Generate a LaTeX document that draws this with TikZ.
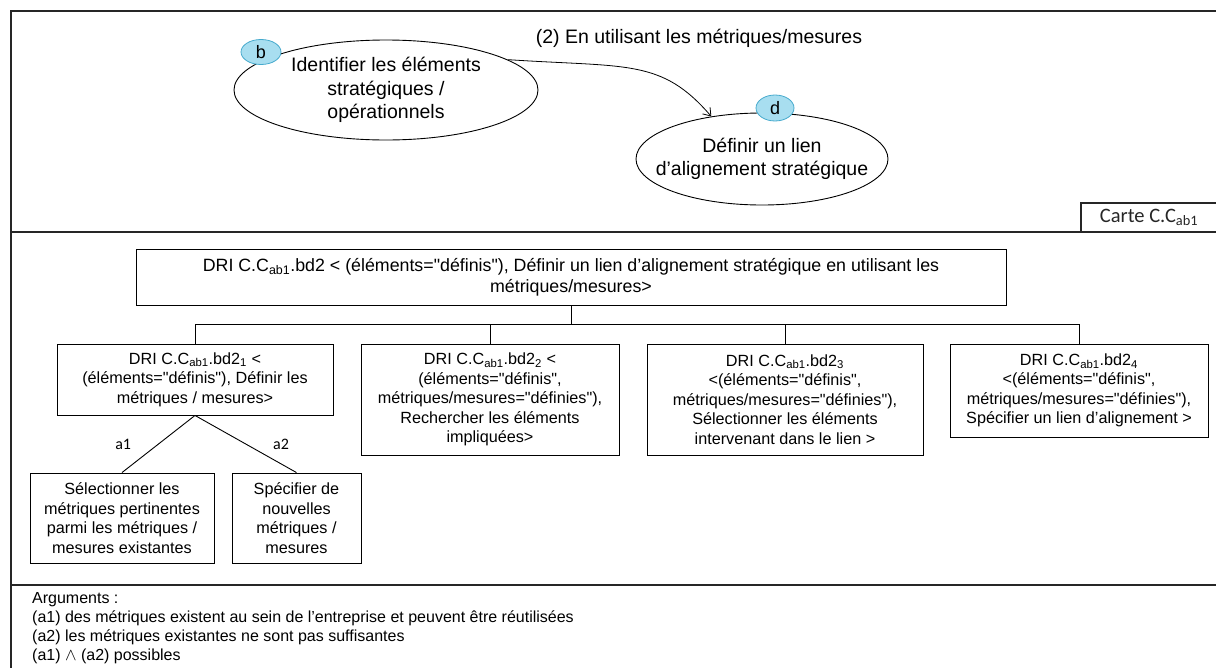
\documentclass[tikz,border=0pt]{standalone}
\usepackage{fontspec}
\setmainfont{Liberation Sans}
\newfontfamily\carlito{Carlito}
\definecolor{badgefill}{RGB}{168,222,240}
\definecolor{badgedraw}{RGB}{70,170,205}
\usetikzlibrary{
  arrows.meta,
  positioning,
  shapes.geometric
}
\newcommand{\dq}{\textquotedbl}

\begin{document}
\begin{tikzpicture}[
  x=1pt, y=-1pt,
  goal/.style={
    draw, ellipse, line width=0.9pt, inner xsep=-20pt, inner ysep=0pt,
    align=center, font=\fontsize{19.5}{23.5}\selectfont
  },
  badge/.style={
    draw=badgedraw, fill=badgefill, ellipse, line width=0.8pt,
    inner sep=0pt, minimum width=40, minimum height=25,
    font=\fontsize{18}{20}\selectfont
  },
  dribox/.style={
    draw, line width=0.9pt, inner sep=0pt, align=center,
    font=\fontsize{16.2}{19.5}\selectfont
  },
  frame/.style={line width=1.5pt, black!85},
  link/.style={line width=0.9pt},
  arr/.style={-{Straight Barb[length=7pt,width=10pt]}, line width=0.8pt},
  arglbl/.style={font=\carlito\fontsize{16}{18}\selectfont, inner sep=0pt},
]
\useasboundingbox (0,0) rectangle (1216,667);

% Frame and separators
\draw[frame] (11,690) -- (11,11) -- (1230,11);
\draw[frame] (11,232) -- (1230,232);
\draw[frame] (11,585) -- (1230,585);

% Map part
\node[goal, minimum width=304, minimum height=100] (identif) at (386,90)
  {Identifier les éléments\\stratégiques /\\opérationnels};
\node[goal, minimum width=252, minimum height=92]  (definir) at (762,159)
  {Définir un lien\\d'alignement stratégique};
\node[badge] (badgeb) at (261,52)  {b};
\node[badge, minimum width=38, minimum height=26] (badged) at (775,108) {d};

\draw[arr] (identif.14) .. controls +(120,8) and +(-50,-58) .. (definir.140);
\node[font=\fontsize{19.5}{22}\selectfont] (strat) at (699,38)
  {(2) En utilisant les métriques/mesures};

\node[draw, frame, minimum width=136, minimum height=29, inner sep=0pt,
  font=\carlito\fontsize{20.5}{22}\selectfont] (carte) at (1149,217.5)
  {Carte C.C\textsubscript{ab1}\hspace{8pt}};

% Refinement tree
\node[dribox, minimum width=870, minimum height=56,
  font=\fontsize{17.8}{21}\selectfont] (dri) at (571,277)
  {DRI C.C\textsubscript{ab1}.bd2 < (éléments=\dq définis\dq), Définir un lien d'alignement stratégique en utilisant les\\métriques/mesures>};

\node[dribox, minimum width=276, minimum height=71]  (dri1) at (195,379.5)
  {DRI C.C\textsubscript{ab1}.bd2\textsubscript{1} <\\(éléments=\dq définis\dq), Définir les\\métriques / mesures>};
\node[dribox, minimum width=258, minimum height=111] (dri2) at (490,399.5)
  {DRI C.C\textsubscript{ab1}.bd2\textsubscript{2} <\\(éléments=\dq définis\dq,\\métriques/mesures=\dq définies\dq),\\Rechercher les éléments\\impliquées>};
\node[dribox, minimum width=276, minimum height=111] (dri3) at (785,399.5)
  {DRI C.C\textsubscript{ab1}.bd2\textsubscript{3}\\<(éléments=\dq définis\dq,\\métriques/mesures=\dq définies\dq),\\Sélectionner les éléments\\intervenant dans le lien >};
\node[dribox, minimum width=258, minimum height=93]  (dri4) at (1079,390.5)
  {DRI C.C\textsubscript{ab1}.bd2\textsubscript{4}\\<(éléments=\dq définis\dq,\\métriques/mesures=\dq définies\dq),\\Spécifier un lien d'alignement >};

\coordinate (bus) at (571,324);
\draw[link] (dri.south) -- (bus);
\foreach \b in {dri1,dri2,dri3,dri4}
  \draw[link] (bus) -| (\b.north);

\node[dribox, minimum width=184, minimum height=90] (sel)  at (122,518)
  {Sélectionner les\\métriques pertinentes\\parmi les métriques /\\mesures existantes};
\node[dribox, minimum width=129, minimum height=90] (spec) at (296.5,518)
  {Spécifier de\\nouvelles\\métriques /\\mesures};

\draw[link] (dri1.south) -- (sel.north)
  node[arglbl, midway, left=27pt] (lbla1) {a1};
\draw[link] (dri1.south) -- (spec.north)
  node[arglbl, midway, right=27pt] (lbla2) {a2};

% Arguments
\node[anchor=north west, align=left, inner sep=0pt,
  font=\fontsize{16}{19}\selectfont] (args) at (32,592)
  {Arguments :\\
   (a1) des métriques existent au sein de l'entreprise et peuvent être réutilisées\\
   (a2) les métriques existantes ne sont pas suffisantes\\
   (a1) $\wedge$ (a2) possibles};

\end{tikzpicture}
\end{document}
